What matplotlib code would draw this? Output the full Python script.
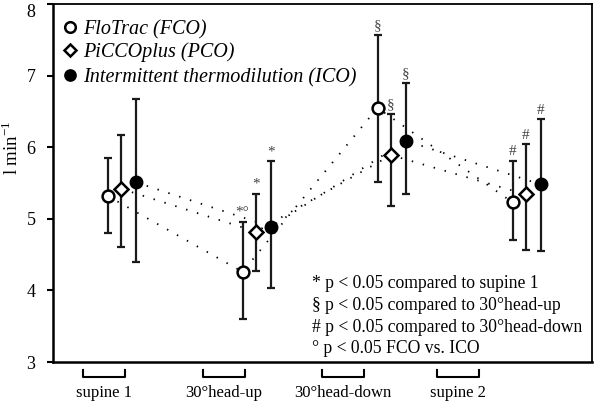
import matplotlib
matplotlib.use("Agg")
import matplotlib.pyplot as plt
import numpy as np

plt.rcParams['font.family'] = ['Liberation Serif', 'DejaVu Serif']
plt.rcParams['mathtext.fontset'] = 'custom'
plt.rcParams['mathtext.rm'] = 'Liberation Serif'

conditions = ["supine 1", "30°head-up", "30°head-down", "supine 2"]
series = ["FloTrac (FCO)", "PiCCOplus (PCO)", "Intermittent thermodilution (ICO)"]

fco = [5.32, 4.26, 6.55, 5.23]
fco_lo = [4.80, 3.60, 5.52, 4.70]
fco_hi = [5.85, 4.96, 7.57, 5.81]

pco = [5.42, 4.82, 5.89, 5.34]
pco_lo = [4.61, 4.27, 5.18, 4.57]
pco_hi = [6.17, 5.35, 6.46, 6.04]

ico = [5.51, 4.89, 6.09, 5.48]
ico_lo = [4.40, 4.03, 5.35, 4.55]
ico_hi = [6.67, 5.81, 6.90, 6.39]

# significance marks above each error bar
marks_fco = ["", "*°", "§", "#"]
marks_pco = ["", "*", "§", "#"]
marks_ico = ["", "*", "§", "#"]

notes = ["* p < 0.05 compared to supine 1",
         "§ p < 0.05 compared to 30°head-up",
         "# p < 0.05 compared to 30°head-down",
         "° p < 0.05 FCO vs. ICO"]

fig = plt.figure(figsize=(6.0, 4.03), dpi=100)
ax = fig.add_axes([0.0883, 0.1017, 0.8984, 0.8883])

x = np.arange(len(conditions))
offsets = [-0.10, 0.0, 0.11]
bracket_pos = np.array([-0.126, 0.763, 1.644, 2.496])

styles = [dict(marker='o', mfc='white', mec='black', ms=8.5, mew=1.8),
          dict(marker='D', mfc='white', mec='black', ms=7, mew=1.8),
          dict(marker='o', mfc='black', mec='black', ms=8.5, mew=1.5)]
data = [(fco, fco_lo, fco_hi, marks_fco),
        (pco, pco_lo, pco_hi, marks_pco),
        (ico, ico_lo, ico_hi, marks_ico)]

for (vals, lo, hi, marks), mstyle, off in zip(data, styles, offsets):
    xs = x + off
    vals = np.array(vals); lo = np.array(lo); hi = np.array(hi)
    ax.plot(xs, vals, color='black', lw=1.3, linestyle=(0, (0.8, 5.5)), zorder=1)
    ax.errorbar(xs, vals, yerr=[vals - lo, hi - vals], fmt='none', ecolor='#1a1a1a',
                elinewidth=1.6, capsize=2.7, capthick=1.6, zorder=2)
    ax.plot(xs, vals, linestyle='none', zorder=3, **mstyle)
    for xi, h, m in zip(xs, hi, marks):
        if m:
            ax.annotate(m, (xi, h), xytext=(0, 2), textcoords='offset points',
                        ha='center', va='bottom', fontsize=11, color='#444444')

ax.set_xlim(-0.504, 3.489)
ax.set_ylim(3, 8)
ax.set_yticks([3, 4, 5, 6, 7, 8])
ax.set_xticks([])
ax.tick_params(axis='y', direction='out', length=4.5, width=1.5, labelsize=13, pad=8)
ax.get_yticklabels()[-1].set_va('top')
for s in ax.spines.values():
    s.set_linewidth(1.3)
ax.spines['left'].set_linewidth(1.8)
ax.spines['bottom'].set_linewidth(1.8)

fig.text(12 / 600, 1 - 148 / 403, "l min$^{-1}$", rotation=90, ha='center', va='center', fontsize=13.5)

# legend (manual, in axes coordinates)
leg_marker_y = [0.936, 0.872, 0.802]
for name, st, yy in zip(series, styles, leg_marker_y):
    ax.plot([0.0315], [yy], transform=ax.transAxes, clip_on=False, linestyle='none',
            **{**st, 'ms': st['ms'] * 0.9})
    ax.text(0.0557, yy, name, transform=ax.transAxes, ha='left', va='center_baseline',
            fontsize=14.5, style='italic')

# category brackets and labels
trans = ax.get_xaxis_transform()
half = 0.155
for bp, lab in zip(bracket_pos, conditions):
    ax.plot([bp - half, bp - half, bp + half, bp + half], [-0.022, -0.042, -0.042, -0.022],
            color='black', lw=1.5, transform=trans, clip_on=False)
    ax.text(bp, -0.087, lab, transform=trans, ha='center', va='center', fontsize=12)

for i, n in enumerate(notes):
    ax.text(0.48, 0.218 - i * 0.0605, n, transform=ax.transAxes, ha='left', va='center', fontsize=12.7)

fig.savefig("out.png", dpi=100)
